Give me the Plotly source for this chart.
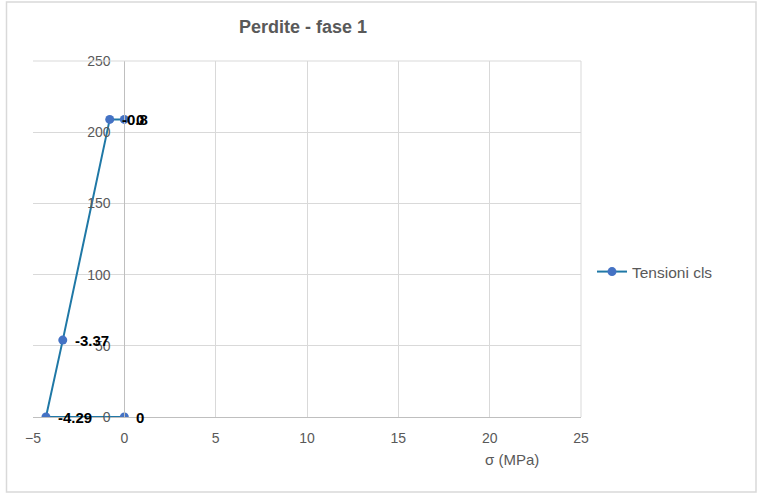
import plotly.graph_objects as go

# Data
sigma = [0, -4.29, -3.37, -0.8, 0]
height = [0, 0, 54, 209, 209]
labels = ["0", "-4.29", "-3.37", "-0.8", "0"]
series_name = "Tensioni cls"
x_ticks = [-5, 0, 5, 10, 15, 20, 25]
y_ticks = [0, 50, 100, 150, 200, 250]

W, H = 759, 494
L, R, T, B = 33, 178, 61, 77
pw, ph = W - L - R, H - T - B

grey = "#595959"
grid = "#d9d9d9"
font = "Liberation Sans, Arial, sans-serif"

fig = go.Figure()
fig.add_trace(go.Scatter(
    x=sigma, y=height, mode="lines+markers", name=series_name,
    line=dict(color="#1f78a6", width=2),
    marker=dict(color="#4472c4", size=9),
))

annotations = []
for xv, yv, t in zip(sigma, height, labels):
    annotations.append(dict(
        x=xv, y=yv, xref="x", yref="y", text="<b>%s</b>" % t,
        showarrow=False, xanchor="left", yanchor="middle", xshift=10,
        font=dict(family=font, size=15, color="#000000"),
    ))

annotations.append(dict(
    x=(512 - L) / pw, y=-(459 - (T + ph)) / ph, xref="paper", yref="paper",
    text="σ (MPa)", showarrow=False, xanchor="center", yanchor="middle",
    font=dict(family=font, size=15, color=grey),
))

fig.update_layout(
    width=W, height=H,
    margin=dict(l=L, r=R, t=T, b=B, autoexpand=False),
    paper_bgcolor="white", plot_bgcolor="white",
    title=dict(text="<b>Perdite - fase 1</b>", x=303 / W, xref="container",
               y=1 - 27 / H, yanchor="middle", xanchor="center",
               font=dict(family=font, size=18, color=grey)),
    xaxis=dict(range=[-5, 25], tickvals=x_ticks, showgrid=True, gridcolor=grid,
               gridwidth=1, zeroline=False, showline=True, linecolor="#bfbfbf",
               linewidth=1, ticks="", ticklabelstandoff=8,
               tickfont=dict(family=font, size=14, color=grey),
               fixedrange=True),
    yaxis=dict(range=[0, 250], tickvals=y_ticks, showgrid=True, gridcolor=grid,
               gridwidth=1, zeroline=False, showline=True, linecolor="#bfbfbf",
               linewidth=1, ticks="", anchor="free", position=(5 / 30),
               ticklabelstandoff=11,
               tickfont=dict(family=font, size=14, color=grey), fixedrange=True),
    showlegend=True,
    legend=dict(x=(592 - L) / pw, y=(T + ph - 272) / ph, xanchor="left",
                yanchor="middle", font=dict(family=font, size=15.5, color=grey),
                bgcolor="rgba(0,0,0,0)"),
    annotations=annotations,
    shapes=[
        dict(type="rect", xref="paper", yref="paper",
             x0=(6.5 - L) / pw, x1=(756 - L) / pw,
             y0=(T + ph - 492) / ph, y1=(T + ph - 2) / ph,
             line=dict(color=grid, width=1.5), fillcolor="rgba(0,0,0,0)"),
        dict(type="line", xref="paper", yref="paper", x0=0, x1=1, y0=1, y1=1,
             line=dict(color=grid, width=1)),
        dict(type="line", xref="paper", yref="paper", x0=1, x1=1, y0=0, y1=1,
             line=dict(color=grid, width=1)),
    ],
)

fig.write_html("out.html",
               config={"displayModeBar": False},
               post_script="document.body.style.margin='0';document.body.style.padding='0';")
